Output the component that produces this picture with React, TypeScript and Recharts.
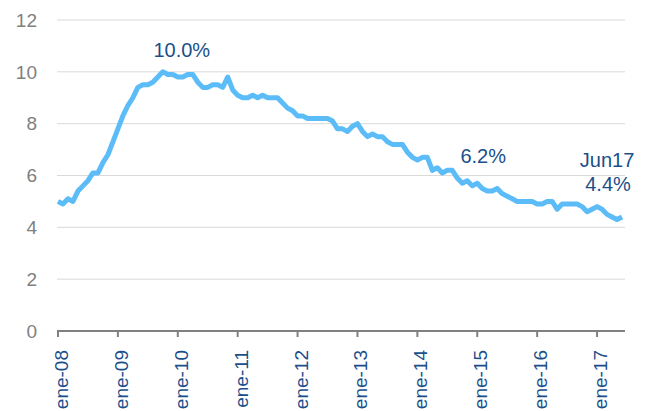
import React from 'react';
import { LineChart, Line, XAxis, YAxis, CartesianGrid, ReferenceDot } from 'recharts';

const years = ['08', '09', '10', '11', '12', '13', '14', '15', '16', '17'];
const xTickLabels = years.map((y) => `ene-${y}`);
const xTicks = years.map((_, i) => i * 12);
const yTicks = [0, 2, 4, 6, 8, 10, 12];

const rate2008 = [5.0, 4.9, 5.1, 5.0, 5.4, 5.6, 5.8, 6.1, 6.1, 6.5, 6.8, 7.3];
const rate2009 = [7.8, 8.3, 8.7, 9.0, 9.4, 9.5, 9.5, 9.6, 9.8, 10.0, 9.9, 9.9];
const rate2010 = [9.8, 9.8, 9.9, 9.9, 9.6, 9.4, 9.4, 9.5, 9.5, 9.4, 9.8, 9.3];
const rate2011 = [9.1, 9.0, 9.0, 9.1, 9.0, 9.1, 9.0, 9.0, 9.0, 8.8, 8.6, 8.5];
const rate2012 = [8.3, 8.3, 8.2, 8.2, 8.2, 8.2, 8.2, 8.1, 7.8, 7.8, 7.7, 7.9];
const rate2013 = [8.0, 7.7, 7.5, 7.6, 7.5, 7.5, 7.3, 7.2, 7.2, 7.2, 6.9, 6.7];
const rate2014 = [6.6, 6.7, 6.7, 6.2, 6.3, 6.1, 6.2, 6.2, 5.9, 5.7, 5.8, 5.6];
const rate2015 = [5.7, 5.5, 5.4, 5.4, 5.5, 5.3, 5.2, 5.1, 5.0, 5.0, 5.0, 5.0];
const rate2016 = [4.9, 4.9, 5.0, 5.0, 4.7, 4.9, 4.9, 4.9, 4.9, 4.8, 4.6, 4.7];
const rate2017 = [4.8, 4.7, 4.5, 4.4, 4.3, 4.4];

const rates = [
  ...rate2008, ...rate2009, ...rate2010, ...rate2011, ...rate2012,
  ...rate2013, ...rate2014, ...rate2015, ...rate2016, ...rate2017,
];

const data = rates.map((v, i) => ({ idx: i, rate: v }));

const annotations = [
  { x: 24.8, y: 10.85, text: '10.0%' },
  { x: 85.2, y: 6.76, text: '6.2%' },
  { x: 110, y: 6.62, text: 'Jun17' },
  { x: 110.2, y: 5.66, text: '4.4%' },
];

const FONT = '"Liberation Sans", Arial, sans-serif';
const BLUE_TEXT = '#1B4F8A';

const XTick = (props: any) => {
  const { x, y, payload } = props;
  const i = xTicks.indexOf(payload.value);
  return (
    <g transform={`translate(${x},${y})`}>
      <text transform="rotate(-90)" x={-11} y={10} textAnchor="end" fill={BLUE_TEXT} fontSize={19} fontFamily={FONT}>
        {xTickLabels[i]}
      </text>
    </g>
  );
};

export default function App() {
  return (
    <div style={{ position: 'absolute', left: 0, top: 0, width: 649, height: 411, background: '#fff' }}>
      <LineChart width={649} height={411} data={data} margin={{ top: 20, right: 24, left: 0, bottom: 0 }}>
        <CartesianGrid vertical={false} stroke="#d9d9d9" strokeWidth={1} />
        <XAxis
          dataKey="idx"
          type="number"
          domain={[-0.2, 113.6]}
          ticks={xTicks}
          interval={0}
          height={80}
          tick={<XTick />}
          tickLine={{ stroke: '#808080', strokeWidth: 2 }}
          tickSize={6}
          axisLine={{ stroke: '#808080', strokeWidth: 2 }}
          allowDataOverflow
        />
        <YAxis
          type="number"
          domain={[0, 12]}
          ticks={yTicks}
          width={57}
          axisLine={false}
          tickLine={false}
          tickMargin={14}
          tick={{ fill: '#808080', fontSize: 19, fontFamily: FONT }}
        />
        <Line
          type="linear"
          dataKey="rate"
          stroke="#5BBCF7"
          strokeWidth={5}
          dot={false}
          isAnimationActive={false}
          strokeLinejoin="round"
        />
        {annotations.map((a) => (
          <ReferenceDot
            key={a.text}
            x={a.x}
            y={a.y}
            r={0}
            fill="none"
            stroke="none"
            ifOverflow="visible"
            label={{ value: a.text, position: 'center', fill: BLUE_TEXT, fontSize: 20, fontFamily: FONT }}
          />
        ))}
      </LineChart>
    </div>
  );
}
